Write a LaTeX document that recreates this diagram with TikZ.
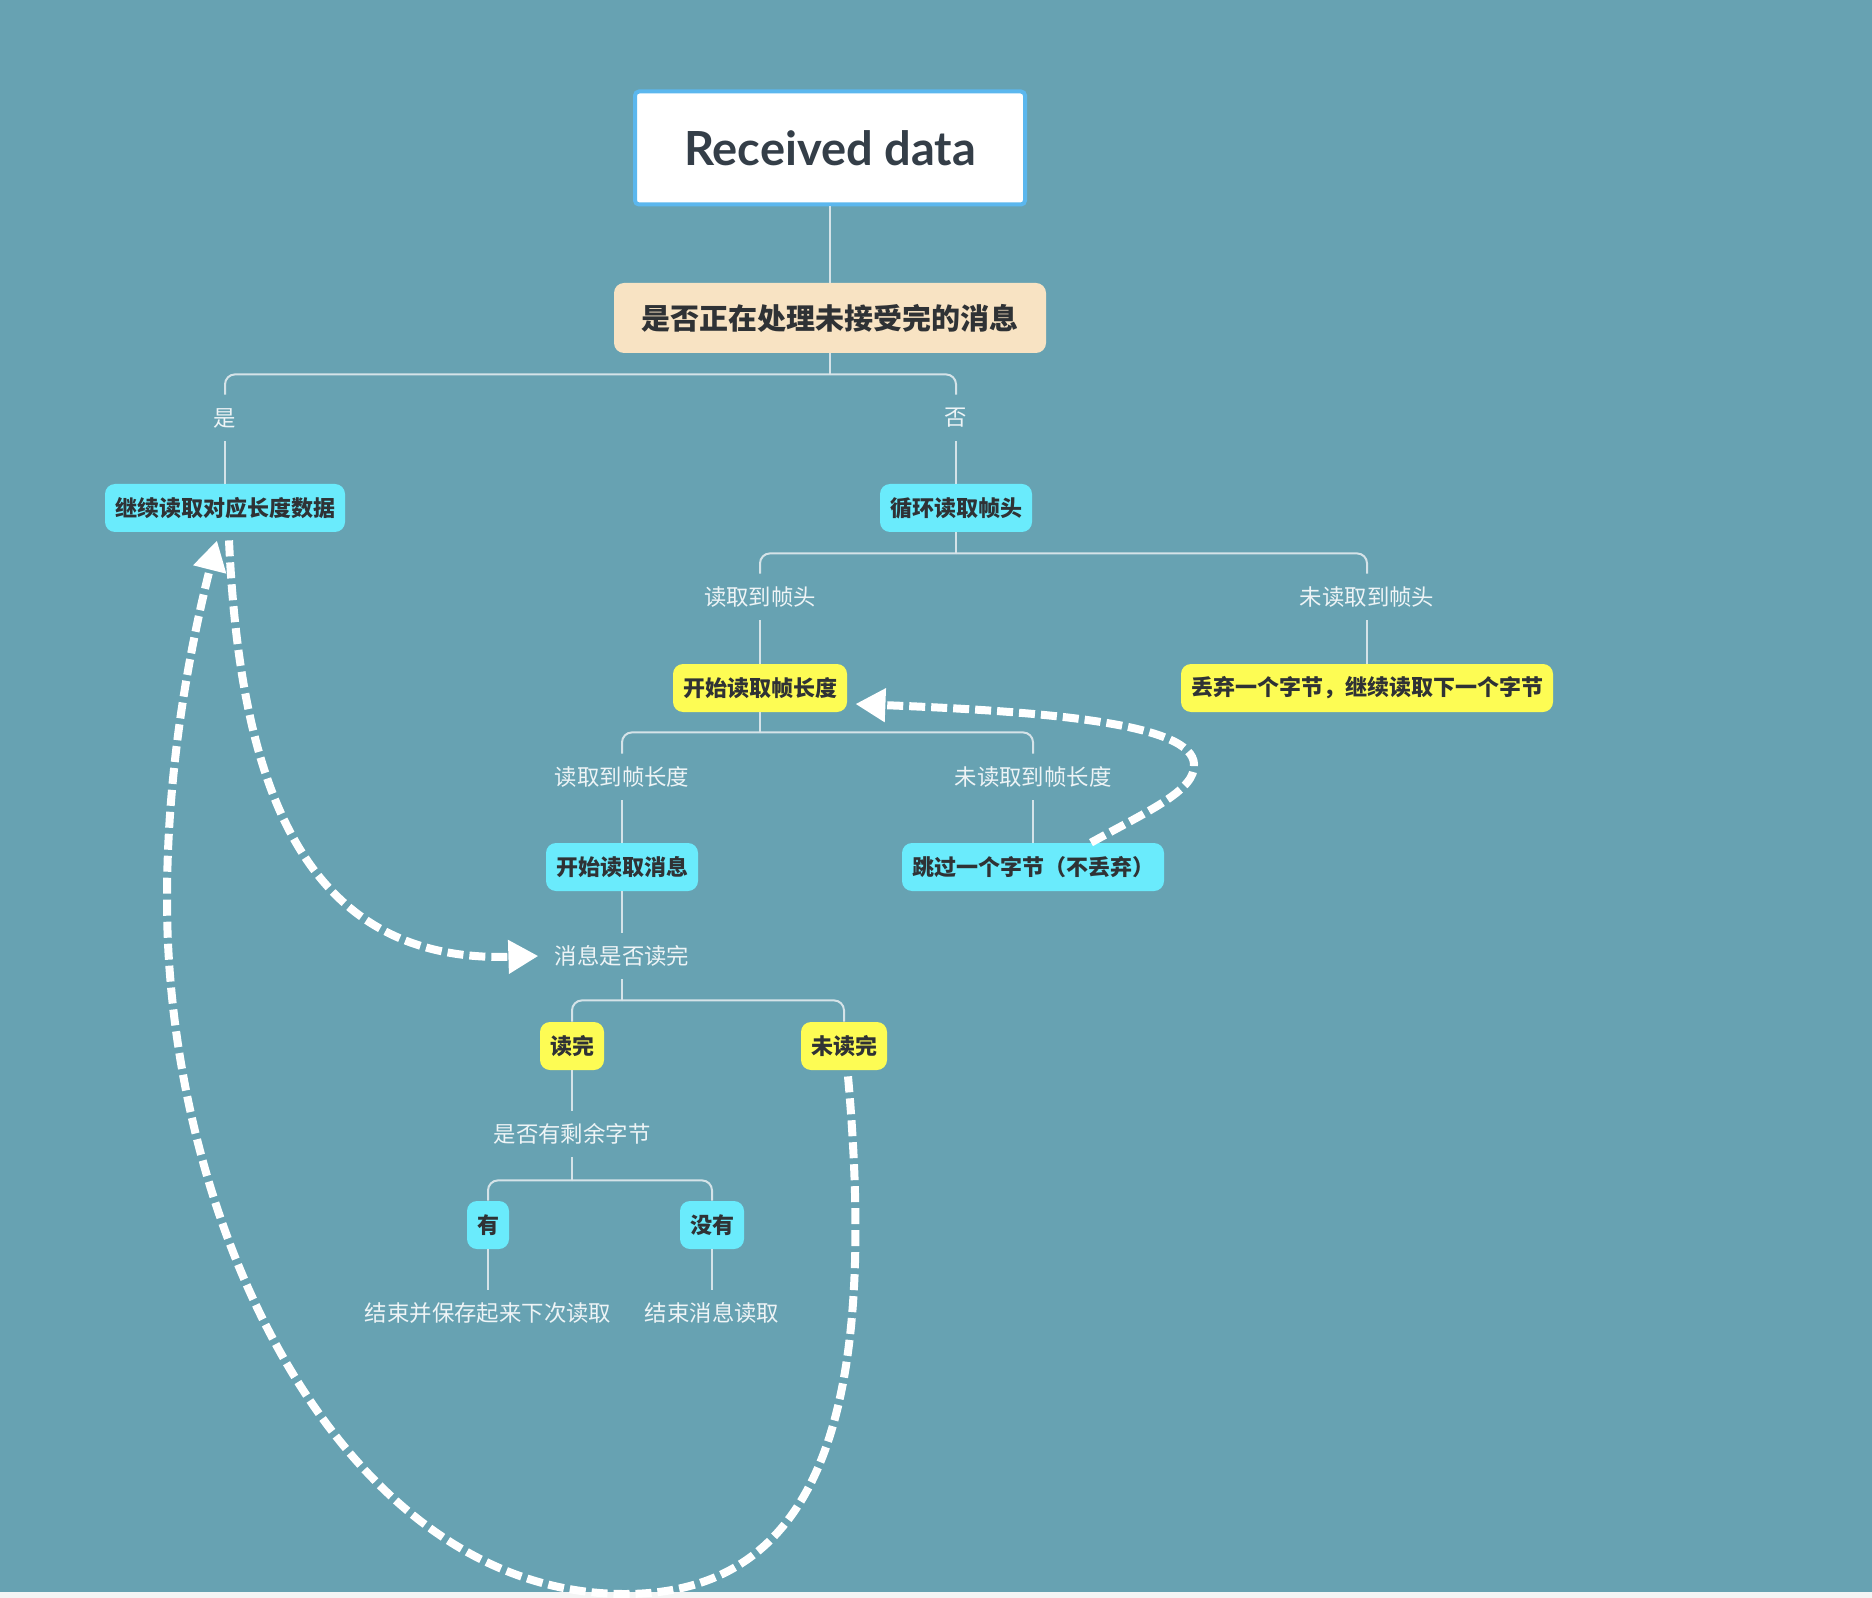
\documentclass[tikz,border=0pt]{standalone}
\usepackage{fontspec}
\setmainfont{Noto Sans CJK SC}
\newfontfamily\latinfont{Lato}
\usepackage{xcolor}
\usetikzlibrary{arrows.meta,positioning}
\definecolor{mmBack}{HTML}{67A2B2}
\definecolor{mmStrip}{HTML}{F4F5F5}
\definecolor{mmBlue}{HTML}{5BB7EE}
\definecolor{mmCyan}{HTML}{6AEBFC}
\definecolor{mmYellow}{HTML}{FDFC54}
\definecolor{mmPeach}{HTML}{F8E3C3}
\definecolor{mmLine}{HTML}{D5E3E8}
\definecolor{mmText}{HTML}{2F3235}
\definecolor{mmTitle}{HTML}{343E48}
\definecolor{mmLabel}{HTML}{EEF4F6}
\tikzset{
    % Node styles
    topicbox/.style={rounded corners=5pt,inner xsep=5pt,inner ysep=0pt,minimum height=24pt,font=\fontsize{11}{13}\selectfont\bfseries,text=mmText},
    cyanbox/.style={topicbox,fill=mmCyan},
    yellowbox/.style={topicbox,fill=mmYellow},
    lbl/.style={inner xsep=8pt,inner ysep=0pt,minimum height=23pt,font=\fontsize{11.2}{13}\selectfont,text=mmLabel},
    % Connector styles
    branch/.style={draw=mmLine,line width=1pt,rounded corners=5pt},
    jump/.style={draw=white,line width=4pt,dash pattern=on 8pt off 3pt,-{Triangle[length=15pt,width=16pt]}}
}

\begin{document}
\begin{tikzpicture}[x=0.5pt,y=-0.5pt,
    recvbox/.style={draw=mmBlue,line width=2pt,fill=white,rounded corners=2pt,minimum width=195pt,minimum height=56.5pt,font=\latinfont\bfseries\fontsize{23.5}{28}\selectfont,text=mmTitle},
    qbox/.style={fill=mmPeach,rounded corners=5pt,minimum width=216pt,minimum height=35pt,font=\fontsize{14.5}{17}\selectfont\bfseries,text=mmText}
]
  % Canvas
  \fill[mmBack] (0,0) rectangle (1872,1592);
  \fill[mmStrip] (0,1592) rectangle (1872,1598);
  \useasboundingbox (0,0) rectangle (1872,1598);

  % Root and first question
  \node[recvbox] (recv) at (830,148) {Received data};
  \node[qbox] (q) at (830,318) {是否正在处理未接受完的消息};
  \node[lbl] (yes) at (225,418) {是};
  \node[lbl] (no) at (956,418) {否};
  \node[cyanbox] (cont) at (225,508) {继续读取对应长度数据};
  \node[cyanbox] (loop) at (956,508) {循环读取帧头};

  % Frame header
  \node[lbl] (hdrok) at (760,597) {读取到帧头};
  \node[lbl] (hdrno) at (1367,597) {未读取到帧头};
  \node[yellowbox] (startlen) at (760,688) {开始读取帧长度};
  \node[yellowbox] (discard) at (1367,688) {丢弃一个字节，继续读取下一个字节};

  % Frame length
  \node[lbl] (lenok) at (622,777) {读取到帧长度};
  \node[lbl] (lenno) at (1033,777) {未读取到帧长度};
  \node[cyanbox] (startmsg) at (622,867) {开始读取消息};
  \node[cyanbox] (skip) at (1033,867) {跳过一个字节（不丢弃）};

  % Message body
  \node[lbl] (msgq) at (622,956) {消息是否读完};
  \node[yellowbox] (done) at (572,1046) {读完};
  \node[yellowbox] (unread) at (844,1046) {未读完};
  \node[lbl] (remq) at (572,1134) {是否有剩余字节};
  \node[cyanbox] (has) at (488,1225) {有};
  \node[cyanbox] (hasnot) at (712,1225) {没有};
  \node[lbl] (save) at (488,1313) {结束并保存起来下次读取};
  \node[lbl] (finish) at (712,1313) {结束消息读取};

  % Bus points under each parent
  \coordinate[below=10.5pt of q.south] (b1);
  \coordinate[below=10.5pt of loop.south] (b2);
  \coordinate[below=10pt of startlen.south] (b3);
  \coordinate[below=10.5pt of msgq.south] (b4);
  \coordinate[below=11.5pt of remq.south] (b5);

  % Tree connectors
  \draw[branch] (recv.south) -- (q.north);
  \draw[branch] (q.south) -- (b1);
  \draw[branch] (b1) -| (yes.north);
  \draw[branch] (b1) -| (no.north);
  \draw[branch] (yes.south) -- (cont.north);
  \draw[branch] (no.south) -- (loop.north);
  \draw[branch] (loop.south) -- (b2);
  \draw[branch] (b2) -| (hdrok.north);
  \draw[branch] (b2) -| (hdrno.north);
  \draw[branch] (hdrok.south) -- (startlen.north);
  \draw[branch] (hdrno.south) -- (discard.north);
  \draw[branch] (startlen.south) -- (b3);
  \draw[branch] (b3) -| (lenok.north);
  \draw[branch] (b3) -| (lenno.north);
  \draw[branch] (lenok.south) -- (startmsg.north);
  \draw[branch] (lenno.south) -- (skip.north);
  \draw[branch] (startmsg.south) -- (msgq.north);
  \draw[branch] (msgq.south) -- (b4);
  \draw[branch] (b4) -| (done.north);
  \draw[branch] (b4) -| (unread.north);
  \draw[branch] (done.south) -- (remq.north);
  \draw[branch] (remq.south) -- (b5);
  \draw[branch] (b5) -| (has.north);
  \draw[branch] (b5) -| (hasnot.north);
  \draw[branch] (has.south) -- (save.north);
  \draw[branch] (hasnot.south) -- (finish.north);

  % Dashed jumps
  \draw[jump] ([xshift=29pt]skip.north) .. controls (1150,810) and (1196,790) .. (1194,764)
      .. controls (1192,725) and (1060,712) .. ([shift={(4pt,-8pt)}]startlen.east);
  \draw[jump] ([shift={(2pt,-4pt)}]cont.south) .. controls (240,780) and (300,963) .. (msgq.west);
  \draw[jump] ([shift={(2pt,-3pt)}]unread.south) .. controls (875,1380) and (835,1594) .. (625,1594)
      .. controls (345,1594) and (167,1230) .. (167,900)
      .. controls (167,760) and (192,640) .. ([shift={(-4pt,-4pt)}]cont.south);
\end{tikzpicture}
\end{document}
